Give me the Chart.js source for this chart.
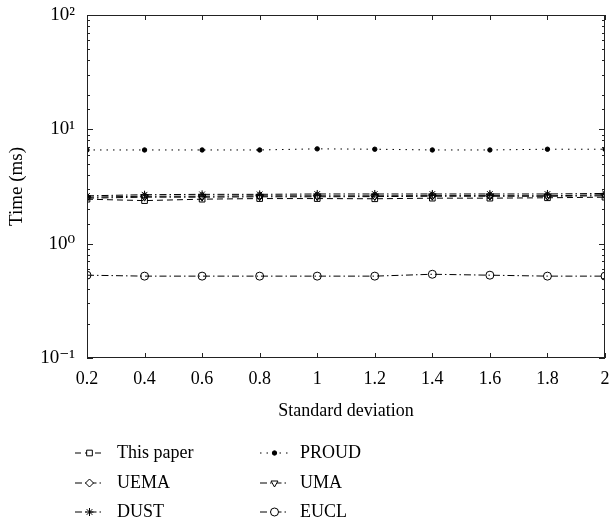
<!DOCTYPE html>
<html>
<head>
<meta charset="utf-8">
<script src="https://cdn.jsdelivr.net/npm/chart.js@4"></script>
<style>
  html, body { margin: 0; padding: 0; background: #fff; }
  #wrap { width: 610px; height: 527px; }
</style>
</head>
<body>
<div id="wrap"><canvas id="myChart" width="610" height="527"></canvas></div>
<script>
// datos
const stdDev = [0.2, 0.4, 0.6, 0.8, 1.0, 1.2, 1.4, 1.6, 1.8, 2.0];
const thisPaper = [2.45, 2.38, 2.45, 2.48, 2.48, 2.47, 2.50, 2.50, 2.52, 2.55];
const uema = [2.55, 2.60, 2.60, 2.62, 2.62, 2.62, 2.63, 2.63, 2.62, 2.68];
const dust = [2.62, 2.68, 2.70, 2.70, 2.72, 2.72, 2.72, 2.72, 2.72, 2.75];
const proud = [6.6, 6.6, 6.6, 6.6, 6.75, 6.7, 6.6, 6.6, 6.7, 6.7];
const uma = [2.50, 2.55, 2.55, 2.57, 2.57, 2.58, 2.60, 2.60, 2.60, 2.62];
const eucl = [0.53, 0.52, 0.52, 0.52, 0.52, 0.52, 0.54, 0.53, 0.52, 0.52];
const yTickLabels = { '0.1': '10\u207B\u00B9', '1': '10\u2070', '10': '10\u00B9', '100': '10\u00B2' };

const FONT = "'Liberation Serif', 'DejaVu Serif', serif";

const pts = (ys) => ys.map((v, i) => ({ x: stdDev[i], y: v }));

function serie(label, ys, dash, style, radius, fill, rot) {
    return {
        label: label,
        data: pts(ys),
        borderColor: '#000',
        backgroundColor: fill ? '#000' : 'rgba(0,0,0,0)',
        borderWidth: 1,
        borderDash: dash,
        pointStyle: style,
        pointRadius: radius,
        pointBorderWidth: 1,
        pointRotation: rot || 0,
        pointBorderColor: '#000',
        pointBackgroundColor: fill ? '#000' : 'rgba(0,0,0,0)',
        fill: false,
        tension: 0
    };
}

const DASHDOT = [7, 3, 1.5, 3];

const datasets = [
    serie('This paper', thisPaper, [6, 4], 'rect', 4, false),
    serie('UEMA', uema, DASHDOT, 'rectRot', 4, false),
    serie('DUST', dust, DASHDOT, 'star', 4, false),
    serie('PROUD', proud, [1.5, 5], 'circle', 2.2, true),
    serie('UMA', uma, DASHDOT, 'triangle', 4, false, 180),
    serie('EUCL', eucl, DASHDOT, 'circle', 4, false)
];

// marco y marcas hacia adentro (estilo MATLAB) + leyenda en dos columnas
const matlabAxes = {
    id: 'matlabAxes',
    afterDraw(chart) {
        const ctx = chart.ctx;
        const a = chart.chartArea;
        const xs = chart.scales.x, ys = chart.scales.y;
        ctx.save();
        ctx.strokeStyle = '#222';
        ctx.lineWidth = 1;
        ctx.setLineDash([]);
        ctx.strokeRect(a.left + 0.5, a.top + 0.5, a.right - a.left - 1, a.bottom - a.top - 1);
        ctx.beginPath();
        xs.ticks.forEach(t => {
            const px = Math.round(xs.getPixelForValue(t.value)) + 0.5;
            ctx.moveTo(px, a.bottom); ctx.lineTo(px, a.bottom - 5);
            ctx.moveTo(px, a.top); ctx.lineTo(px, a.top + 5);
        });
        ys.ticks.forEach(t => {
            const py = Math.round(ys.getPixelForValue(t.value)) + 0.5;
            const major = yTickLabels[String(+t.value.toPrecision(3))] !== undefined;
            const len = major ? 6 : 3;
            ctx.moveTo(a.left, py); ctx.lineTo(a.left + len, py);
            ctx.moveTo(a.right, py); ctx.lineTo(a.right - len, py);
        });
        ctx.stroke();

        // leyenda
        const cols = [{ x0: 75, tx: 117 }, { x0: 260, tx: 300 }];
        const rows = [453, 483, 512];
        ctx.font = '18px ' + FONT;
        ctx.fillStyle = '#000';
        ctx.textBaseline = 'middle';
        chart.data.datasets.forEach((ds, i) => {
            const c = cols[Math.floor(i / 3)];
            const y = rows[i % 3];
            ctx.strokeStyle = '#000';
            ctx.lineWidth = 1;
            ctx.setLineDash(ds.borderDash);
            ctx.beginPath();
            ctx.moveTo(c.x0, y); ctx.lineTo(c.x0 + 29, y);
            ctx.stroke();
            ctx.setLineDash([]);
            ctx.fillStyle = ds.pointBackgroundColor === '#000' ? '#000' : '#fff';
            Chart.helpers.drawPoint(ctx, {
                pointStyle: ds.pointStyle,
                radius: ds.pointRadius,
                rotation: ds.pointRotation,
                borderWidth: 1
            }, c.x0 + 14.5, y);
            ctx.fillStyle = '#000';
            ctx.fillText(ds.label, c.tx, y);
        });
        ctx.restore();
    }
};

const ctx = document.getElementById('myChart').getContext('2d');
new Chart(ctx, {
    type: 'line',
    data: { datasets: datasets },
    plugins: [matlabAxes],
    options: {
        responsive: false,
        animation: false,
        layout: { padding: { top: 15, right: 3, bottom: 105, left: 0 } },
        plugins: {
            legend: { display: false },
            tooltip: { enabled: false }
        },
        scales: {
            x: {
                type: 'linear',
                min: 0.2,
                max: 2,
                grid: { display: false },
                border: { display: false },
                ticks: {
                    stepSize: 0.2,
                    padding: 2,
                    color: '#000',
                    font: { family: FONT, size: 18 },
                    maxRotation: 0,
                    autoSkip: false,
                    callback: (v) => String(+v.toFixed(1))
                },
                title: {
                    display: true,
                    text: 'Standard deviation',
                    color: '#000',
                    font: { family: FONT, size: 18 },
                    padding: { top: 0, bottom: 0 }
                },
                afterFit: (s) => { s.height = 64; s.paddingLeft = 0; s.paddingRight = 0; }
            },
            y: {
                type: 'logarithmic',
                min: 0.1,
                max: 100,
                grid: { display: false },
                border: { display: false },
                ticks: {
                    padding: 4,
                    color: '#000',
                    autoSkip: false,
                    font: { family: FONT, size: 19 },
                    callback: (v) => {
                        const k = String(+Number(v).toPrecision(3));
                        return yTickLabels[k] !== undefined ? yTickLabels[k] : '';
                    }
                },
                title: {
                    display: true,
                    text: 'Time (ms)',
                    color: '#000',
                    font: { family: FONT, size: 19 },
                    padding: { top: 6, bottom: 0 }
                },
                afterFit: (s) => { s.width = 87; s.paddingTop = 0; s.paddingBottom = 0; }
            }
        }
    }
});
</script>
</body>
</html>
